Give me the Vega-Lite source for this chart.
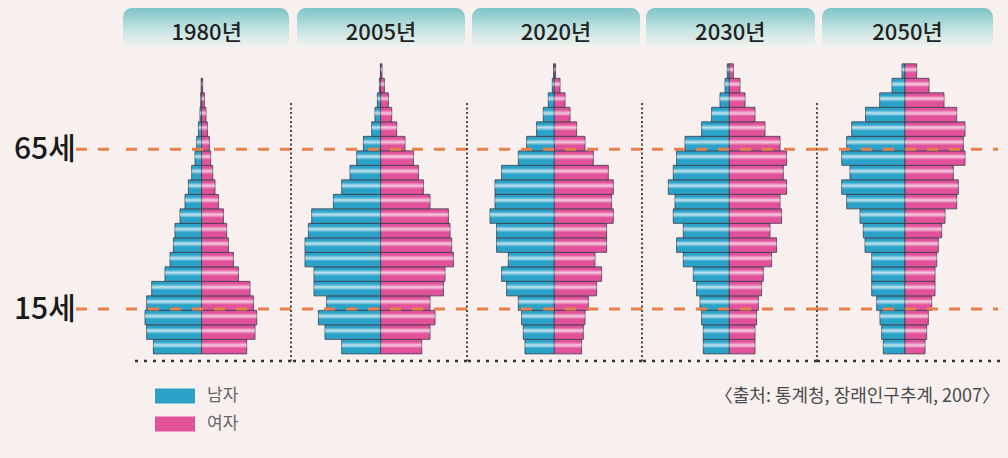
{
  "$schema": "https://vega.github.io/schema/vega-lite/v6.json",
  "background": "#f7f0ee",
  "padding": 0,
  "spacing": 0,
  "bounds": "flush",
  "config": {"view": {"stroke": null}, "axis": {"disable": true}},
  "resolve": {"scale": {"x": "independent", "y": "independent", "color": "shared"}, "legend": {"color": "shared"}},
  "datasets": {
    "refs": [{"label": "65세", "age": 70.4}, {"label": "15세", "age": 15.3}],
    "years": [{"yr": 1980, "label": "1980년"}, {"yr": 2005, "label": "2005년"}, {"yr": 2020, "label": "2020년"}, {"yr": 2030, "label": "2030년"}, {"yr": 2050, "label": "2050년"}],
    "source": [{"text": "〈출처: 통계청, 장래인구추계, 2007〉"}],
    "pop": [
      {"yr":1980,"a":0,"m":48.3,"f":45},{"yr":1980,"a":5,"m":55,"f":53.3},{"yr":1980,"a":10,"m":56.7,"f":55},{"yr":1980,"a":15,"m":55,"f":51.7},{"yr":1980,"a":20,"m":50,"f":48.3},{"yr":1980,"a":25,"m":36.7,"f":36.7},{"yr":1980,"a":30,"m":31.7,"f":31.7},{"yr":1980,"a":35,"m":28.3,"f":26.7},{"yr":1980,"a":40,"m":26.7,"f":25},{"yr":1980,"a":45,"m":21.7,"f":21.7},{"yr":1980,"a":50,"m":16.7,"f":16.7},{"yr":1980,"a":55,"m":13.3,"f":13.3},{"yr":1980,"a":60,"m":10,"f":11},{"yr":1980,"a":65,"m":6.7,"f":9},{"yr":1980,"a":70,"m":5,"f":7.7},{"yr":1980,"a":75,"m":3.3,"f":5.7},{"yr":1980,"a":80,"m":1.7,"f":4.3},{"yr":1980,"a":85,"m":1,"f":2.7},{"yr":1980,"a":90,"m":0.5,"f":1},
      {"yr":2005,"a":0,"m":39,"f":41},{"yr":2005,"a":5,"m":55.7,"f":49.3},{"yr":2005,"a":10,"m":62.3,"f":54.3},{"yr":2005,"a":15,"m":54,"f":49.3},{"yr":2005,"a":20,"m":66.7,"f":62.7},{"yr":2005,"a":25,"m":66.7,"f":64.3},{"yr":2005,"a":30,"m":75.7,"f":72.7},{"yr":2005,"a":35,"m":75.7,"f":71},{"yr":2005,"a":40,"m":72.3,"f":69.3},{"yr":2005,"a":45,"m":69,"f":67.7},{"yr":2005,"a":50,"m":47.3,"f":49.3},{"yr":2005,"a":55,"m":39,"f":42.7},{"yr":2005,"a":60,"m":30.7,"f":37.7},{"yr":2005,"a":65,"m":24,"f":32.7},{"yr":2005,"a":70,"m":17.3,"f":24.3},{"yr":2005,"a":75,"m":9,"f":16},{"yr":2005,"a":80,"m":5.7,"f":11},{"yr":2005,"a":85,"m":3.3,"f":7.7},{"yr":2005,"a":90,"m":1.3,"f":3.7},{"yr":2005,"a":95,"m":0.3,"f":1.3},
      {"yr":2020,"a":0,"m":29.3,"f":27.3},{"yr":2020,"a":5,"m":31,"f":29},{"yr":2020,"a":10,"m":32.7,"f":30.7},{"yr":2020,"a":15,"m":36,"f":34},{"yr":2020,"a":20,"m":47.7,"f":42.3},{"yr":2020,"a":25,"m":52.7,"f":47.3},{"yr":2020,"a":30,"m":46,"f":40.7},{"yr":2020,"a":35,"m":57.7,"f":52.3},{"yr":2020,"a":40,"m":57.7,"f":52.3},{"yr":2020,"a":45,"m":64.3,"f":59},{"yr":2020,"a":50,"m":59.3,"f":57.3},{"yr":2020,"a":55,"m":59.3,"f":59},{"yr":2020,"a":60,"m":52.7,"f":54},{"yr":2020,"a":65,"m":36,"f":39},{"yr":2020,"a":70,"m":27.7,"f":30.7},{"yr":2020,"a":75,"m":17.7,"f":22.3},{"yr":2020,"a":80,"m":11,"f":15.7},{"yr":2020,"a":85,"m":6,"f":10.7},{"yr":2020,"a":90,"m":2,"f":5.7},{"yr":2020,"a":95,"m":0.7,"f":1.3},
      {"yr":2030,"a":0,"m":26,"f":25.7},{"yr":2030,"a":5,"m":26,"f":25.7},{"yr":2030,"a":10,"m":27.7,"f":27.3},{"yr":2030,"a":15,"m":29.3,"f":29},{"yr":2030,"a":20,"m":32.7,"f":32.3},{"yr":2030,"a":25,"m":36,"f":34},{"yr":2030,"a":30,"m":46,"f":42.3},{"yr":2030,"a":35,"m":52.7,"f":47.3},{"yr":2030,"a":40,"m":46,"f":40.7},{"yr":2030,"a":45,"m":56,"f":52.3},{"yr":2030,"a":50,"m":54.3,"f":50.7},{"yr":2030,"a":55,"m":61,"f":57.3},{"yr":2030,"a":60,"m":56,"f":54},{"yr":2030,"a":65,"m":52.7,"f":57.3},{"yr":2030,"a":70,"m":44.3,"f":50.7},{"yr":2030,"a":75,"m":27.7,"f":35.7},{"yr":2030,"a":80,"m":17.7,"f":25.7},{"yr":2030,"a":85,"m":9.3,"f":15.7},{"yr":2030,"a":90,"m":4.3,"f":10.7},{"yr":2030,"a":95,"m":2,"f":4},
      {"yr":2050,"a":0,"m":21.7,"f":20},{"yr":2050,"a":5,"m":23.3,"f":21.7},{"yr":2050,"a":10,"m":25,"f":23.3},{"yr":2050,"a":15,"m":28.3,"f":26.7},{"yr":2050,"a":20,"m":33.3,"f":30},{"yr":2050,"a":25,"m":33.3,"f":30},{"yr":2050,"a":30,"m":33.3,"f":31.7},{"yr":2050,"a":35,"m":40,"f":33.3},{"yr":2050,"a":40,"m":41.7,"f":36.7},{"yr":2050,"a":45,"m":45,"f":40},{"yr":2050,"a":50,"m":58.3,"f":51.7},{"yr":2050,"a":55,"m":63.3,"f":53.3},{"yr":2050,"a":60,"m":55,"f":48.3},{"yr":2050,"a":65,"m":63.3,"f":60},{"yr":2050,"a":70,"m":58.3,"f":58.3},{"yr":2050,"a":75,"m":53.3,"f":60},{"yr":2050,"a":80,"m":39.5,"f":51.7},{"yr":2050,"a":85,"m":25.3,"f":39},{"yr":2050,"a":90,"m":13,"f":24},{"yr":2050,"a":95,"m":3,"f":11.7}
    ]
  },
  "hconcat": [
    {
      "width": 116, "height": 458,
      "data": {"name": "refs"},
      "encoding": {"y": {"field": "age", "type": "quantitative", "scale": {"domain": [-36.07, 121.83], "nice": false, "zero": false}}},
      "layer": [
        {"mark": {"type": "rule", "stroke": "#e8804c", "strokeWidth": 3, "strokeDash": [11, 11]},
         "encoding": {"x": {"datum": 76, "type": "quantitative", "scale": {"domain": [0, 116], "nice": false, "zero": false}}, "x2": {"datum": 116}}},
        {"mark": {"type": "text", "align": "left", "baseline": "middle", "dy": 1, "fontSize": 30, "fontWeight": 500, "font": "Noto Sans CJK KR", "color": "#1a1a1a"},
         "encoding": {"x": {"datum": 14, "type": "quantitative"}, "text": {"field": "label"}}}
      ]
    },
    {
      "width": 175, "height": 458,
      "resolve": {"scale": {"x": "independent"}},
      "layer": [
        {
          "data": {"name": "pop"},
          "transform": [{"filter": "datum.yr == 1980"}],
          "encoding": {
            "y": {"field": "a", "type": "quantitative", "bin": {"binned": true, "step": 5}, "scale": {"domain": [-36.07, 121.83], "nice": false, "zero": false}},
            "x": {"field": "m", "type": "quantitative", "scale": {"domain": [0, 85.7], "range": [85.7, 0], "nice": false}},
            "x2": {"datum": 0}
          },
          "layer": [
            {"mark": {"type": "bar", "binSpacing": 0, "stroke": "#3c3c4c", "strokeWidth": 0.8},
             "encoding": {"color": {"datum": "남자", "type": "nominal", "scale": {"domain": ["남자", "여자"], "range": ["#2ba3c9", "#e2529a"]},
               "legend": {"orient": "none", "legendX": 155, "legendY": 376, "title": null, "direction": "vertical", "symbolType": "M-1,-0.375H1V0.375H-1Z", "symbolSize": 1600, "symbolStrokeWidth": 0, "symbolOpacity": 1, "labelFontSize": 17, "labelColor": "#666666", "labelFont": "Noto Sans CJK KR", "labelOffset": 12, "rowPadding": -9, "padding": 0}}}},
            {"mark": {"type": "bar", "binSpacing": 0, "strokeWidth": 0, "fill": {"gradient": "linear", "x1": 0, "y1": 0, "x2": 0, "y2": 1, "stops": [{"offset": 0, "color": "rgba(255,255,255,0)"}, {"offset": 0.18, "color": "rgba(255,255,255,0)"}, {"offset": 0.4, "color": "rgba(255,255,255,0.7)"}, {"offset": 0.62, "color": "rgba(255,255,255,0)"}, {"offset": 1, "color": "rgba(255,255,255,0)"}]}}}
          ]
        },
        {
          "data": {"name": "years"},
          "transform": [{"filter": "datum.yr == 1980"}],
          "layer": [
            {"data": {"name": "pop"}, "transform": [{"filter": "datum.yr == 1980"}],
             "encoding": {
               "y": {"field": "a", "type": "quantitative", "bin": {"binned": true, "step": 5}, "scale": {"domain": [-36.07, 121.83], "nice": false, "zero": false}},
               "x": {"field": "f", "type": "quantitative", "scale": {"domain": [-85.7, 89.3], "nice": false}},
               "x2": {"datum": 0}
             },
             "layer": [
               {"mark": {"type": "bar", "binSpacing": 0, "stroke": "#3c3c4c", "strokeWidth": 0.8}, "encoding": {"color": {"datum": "여자", "type": "nominal"}}},
               {"mark": {"type": "bar", "binSpacing": 0, "strokeWidth": 0, "fill": {"gradient": "linear", "x1": 0, "y1": 0, "x2": 0, "y2": 1, "stops": [{"offset": 0, "color": "rgba(255,255,255,0)"}, {"offset": 0.18, "color": "rgba(255,255,255,0)"}, {"offset": 0.4, "color": "rgba(255,255,255,0.7)"}, {"offset": 0.62, "color": "rgba(255,255,255,0)"}, {"offset": 1, "color": "rgba(255,255,255,0)"}]}}}
             ]
            },
            {"mark": {"type": "rect", "cornerRadiusTopLeft": 9, "cornerRadiusTopRight": 9, "fill": {"gradient": "linear", "x1": 0, "y1": 0, "x2": 0, "y2": 1, "stops": [{"offset": 0, "color": "#7ec4c8"}, {"offset": 0.55, "color": "#c6e4e2"}, {"offset": 1, "color": "#f5f3f0"}]}},
             "encoding": {"x": {"datum": -78.7, "type": "quantitative"}, "x2": {"datum": 87.3}, "y": {"datum": 105.3, "type": "quantitative"}, "y2": {"datum": 119.1}}},
            {"mark": {"type": "text", "align": "center", "baseline": "middle", "fontSize": 22, "fontWeight": 500, "font": "Noto Sans CJK KR", "color": "#222222"},
             "encoding": {"x": {"datum": 5, "type": "quantitative"}, "y": {"datum": 110.4, "type": "quantitative"}, "text": {"field": "label"}}},
            {"mark": {"type": "rule", "stroke": "#333333", "strokeWidth": 2.5, "strokeDash": [3, 6]},
             "encoding": {"x": {"datum": -66.7, "type": "quantitative"}, "x2": {"datum": 89.3}, "y": {"datum": -2.66, "type": "quantitative"}}},
            {"data": {"name": "refs"}, "mark": {"type": "rule", "stroke": "#e8804c", "strokeWidth": 3, "strokeDash": [11, 11]},
             "encoding": {"y": {"field": "age", "type": "quantitative"}}}
          ]
        }
      ]
    },
    {
      "width": 176, "height": 458,
      "resolve": {"scale": {"x": "independent"}},
      "layer": [
        {
          "data": {"name": "pop"},
          "transform": [{"filter": "datum.yr == 2005"}],
          "encoding": {
            "y": {"field": "a", "type": "quantitative", "bin": {"binned": true, "step": 5}, "scale": {"domain": [-36.07, 121.83], "nice": false, "zero": false}},
            "x": {"field": "m", "type": "quantitative", "scale": {"domain": [0, 89.7], "range": [89.7, 0], "nice": false}},
            "x2": {"datum": 0}
          },
          "layer": [
            {"mark": {"type": "bar", "binSpacing": 0, "stroke": "#3c3c4c", "strokeWidth": 0.8}, "encoding": {"color": {"datum": "남자", "type": "nominal"}}},
            {"mark": {"type": "bar", "binSpacing": 0, "strokeWidth": 0, "fill": {"gradient": "linear", "x1": 0, "y1": 0, "x2": 0, "y2": 1, "stops": [{"offset": 0, "color": "rgba(255,255,255,0)"}, {"offset": 0.18, "color": "rgba(255,255,255,0)"}, {"offset": 0.4, "color": "rgba(255,255,255,0.7)"}, {"offset": 0.62, "color": "rgba(255,255,255,0)"}, {"offset": 1, "color": "rgba(255,255,255,0)"}]}}}
          ]
        },
        {
          "data": {"name": "years"},
          "transform": [{"filter": "datum.yr == 2005"}],
          "layer": [
            {"data": {"name": "pop"}, "transform": [{"filter": "datum.yr == 2005"}],
             "encoding": {
               "y": {"field": "a", "type": "quantitative", "bin": {"binned": true, "step": 5}, "scale": {"domain": [-36.07, 121.83], "nice": false, "zero": false}},
               "x": {"field": "f", "type": "quantitative", "scale": {"domain": [-89.7, 86.3], "nice": false}},
               "x2": {"datum": 0}
             },
             "layer": [
               {"mark": {"type": "bar", "binSpacing": 0, "stroke": "#3c3c4c", "strokeWidth": 0.8}, "encoding": {"color": {"datum": "여자", "type": "nominal"}}},
               {"mark": {"type": "bar", "binSpacing": 0, "strokeWidth": 0, "fill": {"gradient": "linear", "x1": 0, "y1": 0, "x2": 0, "y2": 1, "stops": [{"offset": 0, "color": "rgba(255,255,255,0)"}, {"offset": 0.18, "color": "rgba(255,255,255,0)"}, {"offset": 0.4, "color": "rgba(255,255,255,0.7)"}, {"offset": 0.62, "color": "rgba(255,255,255,0)"}, {"offset": 1, "color": "rgba(255,255,255,0)"}]}}}
             ]
            },
            {"mark": {"type": "rect", "cornerRadiusTopLeft": 9, "cornerRadiusTopRight": 9, "fill": {"gradient": "linear", "x1": 0, "y1": 0, "x2": 0, "y2": 1, "stops": [{"offset": 0, "color": "#7ec4c8"}, {"offset": 0.55, "color": "#c6e4e2"}, {"offset": 1, "color": "#f5f3f0"}]}},
             "encoding": {"x": {"datum": -83.7, "type": "quantitative"}, "x2": {"datum": 84.3}, "y": {"datum": 105.3, "type": "quantitative"}, "y2": {"datum": 119.1}}},
            {"mark": {"type": "text", "align": "center", "baseline": "middle", "fontSize": 22, "fontWeight": 500, "font": "Noto Sans CJK KR", "color": "#222222"},
             "encoding": {"x": {"datum": 0.3, "type": "quantitative"}, "y": {"datum": 110.4, "type": "quantitative"}, "text": {"field": "label"}}},
            {"mark": {"type": "rule", "stroke": "#4a4a4a", "strokeWidth": 2, "strokeDash": [2, 2.5]},
             "encoding": {"x": {"datum": -89.7, "type": "quantitative"}, "y": {"datum": 86.3, "type": "quantitative"}, "y2": {"datum": -2.66}}},
            {"mark": {"type": "rule", "stroke": "#333333", "strokeWidth": 2.5, "strokeDash": [3, 6]},
             "encoding": {"y": {"datum": -2.66, "type": "quantitative"}}},
            {"data": {"name": "refs"}, "mark": {"type": "rule", "stroke": "#e8804c", "strokeWidth": 3, "strokeDash": [11, 11]},
             "encoding": {"y": {"field": "age", "type": "quantitative"}}}
          ]
        }
      ]
    },
    {
      "width": 175, "height": 458,
      "resolve": {"scale": {"x": "independent"}},
      "layer": [
        {
          "data": {"name": "pop"},
          "transform": [{"filter": "datum.yr == 2020"}],
          "encoding": {
            "y": {"field": "a", "type": "quantitative", "bin": {"binned": true, "step": 5}, "scale": {"domain": [-36.07, 121.83], "nice": false, "zero": false}},
            "x": {"field": "m", "type": "quantitative", "scale": {"domain": [0, 87.3], "range": [87.3, 0], "nice": false}},
            "x2": {"datum": 0}
          },
          "layer": [
            {"mark": {"type": "bar", "binSpacing": 0, "stroke": "#3c3c4c", "strokeWidth": 0.8}, "encoding": {"color": {"datum": "남자", "type": "nominal"}}},
            {"mark": {"type": "bar", "binSpacing": 0, "strokeWidth": 0, "fill": {"gradient": "linear", "x1": 0, "y1": 0, "x2": 0, "y2": 1, "stops": [{"offset": 0, "color": "rgba(255,255,255,0)"}, {"offset": 0.18, "color": "rgba(255,255,255,0)"}, {"offset": 0.4, "color": "rgba(255,255,255,0.7)"}, {"offset": 0.62, "color": "rgba(255,255,255,0)"}, {"offset": 1, "color": "rgba(255,255,255,0)"}]}}}
          ]
        },
        {
          "data": {"name": "years"},
          "transform": [{"filter": "datum.yr == 2020"}],
          "layer": [
            {"data": {"name": "pop"}, "transform": [{"filter": "datum.yr == 2020"}],
             "encoding": {
               "y": {"field": "a", "type": "quantitative", "bin": {"binned": true, "step": 5}, "scale": {"domain": [-36.07, 121.83], "nice": false, "zero": false}},
               "x": {"field": "f", "type": "quantitative", "scale": {"domain": [-87.3, 87.7], "nice": false}},
               "x2": {"datum": 0}
             },
             "layer": [
               {"mark": {"type": "bar", "binSpacing": 0, "stroke": "#3c3c4c", "strokeWidth": 0.8}, "encoding": {"color": {"datum": "여자", "type": "nominal"}}},
               {"mark": {"type": "bar", "binSpacing": 0, "strokeWidth": 0, "fill": {"gradient": "linear", "x1": 0, "y1": 0, "x2": 0, "y2": 1, "stops": [{"offset": 0, "color": "rgba(255,255,255,0)"}, {"offset": 0.18, "color": "rgba(255,255,255,0)"}, {"offset": 0.4, "color": "rgba(255,255,255,0.7)"}, {"offset": 0.62, "color": "rgba(255,255,255,0)"}, {"offset": 1, "color": "rgba(255,255,255,0)"}]}}}
             ]
            },
            {"mark": {"type": "rect", "cornerRadiusTopLeft": 9, "cornerRadiusTopRight": 9, "fill": {"gradient": "linear", "x1": 0, "y1": 0, "x2": 0, "y2": 1, "stops": [{"offset": 0, "color": "#7ec4c8"}, {"offset": 0.55, "color": "#c6e4e2"}, {"offset": 1, "color": "#f5f3f0"}]}},
             "encoding": {"x": {"datum": -82.3, "type": "quantitative"}, "x2": {"datum": 85.7}, "y": {"datum": 105.3, "type": "quantitative"}, "y2": {"datum": 119.1}}},
            {"mark": {"type": "text", "align": "center", "baseline": "middle", "fontSize": 22, "fontWeight": 500, "font": "Noto Sans CJK KR", "color": "#222222"},
             "encoding": {"x": {"datum": 1.7, "type": "quantitative"}, "y": {"datum": 110.4, "type": "quantitative"}, "text": {"field": "label"}}},
            {"mark": {"type": "rule", "stroke": "#4a4a4a", "strokeWidth": 2, "strokeDash": [2, 2.5]},
             "encoding": {"x": {"datum": -87.3, "type": "quantitative"}, "y": {"datum": 86.3, "type": "quantitative"}, "y2": {"datum": -2.66}}},
            {"mark": {"type": "rule", "stroke": "#333333", "strokeWidth": 2.5, "strokeDash": [3, 6]},
             "encoding": {"y": {"datum": -2.66, "type": "quantitative"}}},
            {"data": {"name": "refs"}, "mark": {"type": "rule", "stroke": "#e8804c", "strokeWidth": 3, "strokeDash": [11, 11]},
             "encoding": {"y": {"field": "age", "type": "quantitative"}}}
          ]
        }
      ]
    },
    {
      "width": 175, "height": 458,
      "resolve": {"scale": {"x": "independent"}},
      "layer": [
        {
          "data": {"name": "pop"},
          "transform": [{"filter": "datum.yr == 2030"}],
          "encoding": {
            "y": {"field": "a", "type": "quantitative", "bin": {"binned": true, "step": 5}, "scale": {"domain": [-36.07, 121.83], "nice": false, "zero": false}},
            "x": {"field": "m", "type": "quantitative", "scale": {"domain": [0, 87.3], "range": [87.3, 0], "nice": false}},
            "x2": {"datum": 0}
          },
          "layer": [
            {"mark": {"type": "bar", "binSpacing": 0, "stroke": "#3c3c4c", "strokeWidth": 0.8}, "encoding": {"color": {"datum": "남자", "type": "nominal"}}},
            {"mark": {"type": "bar", "binSpacing": 0, "strokeWidth": 0, "fill": {"gradient": "linear", "x1": 0, "y1": 0, "x2": 0, "y2": 1, "stops": [{"offset": 0, "color": "rgba(255,255,255,0)"}, {"offset": 0.18, "color": "rgba(255,255,255,0)"}, {"offset": 0.4, "color": "rgba(255,255,255,0.7)"}, {"offset": 0.62, "color": "rgba(255,255,255,0)"}, {"offset": 1, "color": "rgba(255,255,255,0)"}]}}}
          ]
        },
        {
          "data": {"name": "years"},
          "transform": [{"filter": "datum.yr == 2030"}],
          "layer": [
            {"data": {"name": "pop"}, "transform": [{"filter": "datum.yr == 2030"}],
             "encoding": {
               "y": {"field": "a", "type": "quantitative", "bin": {"binned": true, "step": 5}, "scale": {"domain": [-36.07, 121.83], "nice": false, "zero": false}},
               "x": {"field": "f", "type": "quantitative", "scale": {"domain": [-87.3, 87.7], "nice": false}},
               "x2": {"datum": 0}
             },
             "layer": [
               {"mark": {"type": "bar", "binSpacing": 0, "stroke": "#3c3c4c", "strokeWidth": 0.8}, "encoding": {"color": {"datum": "여자", "type": "nominal"}}},
               {"mark": {"type": "bar", "binSpacing": 0, "strokeWidth": 0, "fill": {"gradient": "linear", "x1": 0, "y1": 0, "x2": 0, "y2": 1, "stops": [{"offset": 0, "color": "rgba(255,255,255,0)"}, {"offset": 0.18, "color": "rgba(255,255,255,0)"}, {"offset": 0.4, "color": "rgba(255,255,255,0.7)"}, {"offset": 0.62, "color": "rgba(255,255,255,0)"}, {"offset": 1, "color": "rgba(255,255,255,0)"}]}}}
             ]
            },
            {"mark": {"type": "rect", "cornerRadiusTopLeft": 9, "cornerRadiusTopRight": 9, "fill": {"gradient": "linear", "x1": 0, "y1": 0, "x2": 0, "y2": 1, "stops": [{"offset": 0, "color": "#7ec4c8"}, {"offset": 0.55, "color": "#c6e4e2"}, {"offset": 1, "color": "#f5f3f0"}]}},
             "encoding": {"x": {"datum": -83.3, "type": "quantitative"}, "x2": {"datum": 85.7}, "y": {"datum": 105.3, "type": "quantitative"}, "y2": {"datum": 119.1}}},
            {"mark": {"type": "text", "align": "center", "baseline": "middle", "fontSize": 22, "fontWeight": 500, "font": "Noto Sans CJK KR", "color": "#222222"},
             "encoding": {"x": {"datum": 1, "type": "quantitative"}, "y": {"datum": 110.4, "type": "quantitative"}, "text": {"field": "label"}}},
            {"mark": {"type": "rule", "stroke": "#4a4a4a", "strokeWidth": 2, "strokeDash": [2, 2.5]},
             "encoding": {"x": {"datum": -87.3, "type": "quantitative"}, "y": {"datum": 86.3, "type": "quantitative"}, "y2": {"datum": -2.66}}},
            {"mark": {"type": "rule", "stroke": "#333333", "strokeWidth": 2.5, "strokeDash": [3, 6]},
             "encoding": {"y": {"datum": -2.66, "type": "quantitative"}}},
            {"data": {"name": "refs"}, "mark": {"type": "rule", "stroke": "#e8804c", "strokeWidth": 3, "strokeDash": [11, 11]},
             "encoding": {"y": {"field": "age", "type": "quantitative"}}}
          ]
        }
      ]
    },
    {
      "width": 191, "height": 458,
      "resolve": {"scale": {"x": "independent"}},
      "layer": [
        {
          "data": {"name": "pop"},
          "transform": [{"filter": "datum.yr == 2050"}],
          "encoding": {
            "y": {"field": "a", "type": "quantitative", "bin": {"binned": true, "step": 5}, "scale": {"domain": [-36.07, 121.83], "nice": false, "zero": false}},
            "x": {"field": "m", "type": "quantitative", "scale": {"domain": [0, 88], "range": [88, 0], "nice": false}},
            "x2": {"datum": 0}
          },
          "layer": [
            {"mark": {"type": "bar", "binSpacing": 0, "stroke": "#3c3c4c", "strokeWidth": 0.8}, "encoding": {"color": {"datum": "남자", "type": "nominal"}}},
            {"mark": {"type": "bar", "binSpacing": 0, "strokeWidth": 0, "fill": {"gradient": "linear", "x1": 0, "y1": 0, "x2": 0, "y2": 1, "stops": [{"offset": 0, "color": "rgba(255,255,255,0)"}, {"offset": 0.18, "color": "rgba(255,255,255,0)"}, {"offset": 0.4, "color": "rgba(255,255,255,0.7)"}, {"offset": 0.62, "color": "rgba(255,255,255,0)"}, {"offset": 1, "color": "rgba(255,255,255,0)"}]}}}
          ]
        },
        {
          "data": {"name": "years"},
          "transform": [{"filter": "datum.yr == 2050"}],
          "layer": [
            {"data": {"name": "pop"}, "transform": [{"filter": "datum.yr == 2050"}],
             "encoding": {
               "y": {"field": "a", "type": "quantitative", "bin": {"binned": true, "step": 5}, "scale": {"domain": [-36.07, 121.83], "nice": false, "zero": false}},
               "x": {"field": "f", "type": "quantitative", "scale": {"domain": [-88, 103], "nice": false}},
               "x2": {"datum": 0}
             },
             "layer": [
               {"mark": {"type": "bar", "binSpacing": 0, "stroke": "#3c3c4c", "strokeWidth": 0.8}, "encoding": {"color": {"datum": "여자", "type": "nominal"}}},
               {"mark": {"type": "bar", "binSpacing": 0, "strokeWidth": 0, "fill": {"gradient": "linear", "x1": 0, "y1": 0, "x2": 0, "y2": 1, "stops": [{"offset": 0, "color": "rgba(255,255,255,0)"}, {"offset": 0.18, "color": "rgba(255,255,255,0)"}, {"offset": 0.4, "color": "rgba(255,255,255,0.7)"}, {"offset": 0.62, "color": "rgba(255,255,255,0)"}, {"offset": 1, "color": "rgba(255,255,255,0)"}]}}}
             ]
            },
            {"mark": {"type": "rect", "cornerRadiusTopLeft": 9, "cornerRadiusTopRight": 9, "fill": {"gradient": "linear", "x1": 0, "y1": 0, "x2": 0, "y2": 1, "stops": [{"offset": 0, "color": "#7ec4c8"}, {"offset": 0.55, "color": "#c6e4e2"}, {"offset": 1, "color": "#f5f3f0"}]}},
             "encoding": {"x": {"datum": -83, "type": "quantitative"}, "x2": {"datum": 88}, "y": {"datum": 105.3, "type": "quantitative"}, "y2": {"datum": 119.1}}},
            {"mark": {"type": "text", "align": "center", "baseline": "middle", "fontSize": 22, "fontWeight": 500, "font": "Noto Sans CJK KR", "color": "#222222"},
             "encoding": {"x": {"datum": 2.5, "type": "quantitative"}, "y": {"datum": 110.4, "type": "quantitative"}, "text": {"field": "label"}}},
            {"mark": {"type": "rule", "stroke": "#4a4a4a", "strokeWidth": 2, "strokeDash": [2, 2.5]},
             "encoding": {"x": {"datum": -88, "type": "quantitative"}, "y": {"datum": 86.3, "type": "quantitative"}, "y2": {"datum": -2.66}}},
            {"mark": {"type": "rule", "stroke": "#333333", "strokeWidth": 2.5, "strokeDash": [3, 6]},
             "encoding": {"x": {"datum": -88, "type": "quantitative"}, "x2": {"datum": 95}, "y": {"datum": -2.66, "type": "quantitative"}}},
            {"data": {"name": "refs"}, "mark": {"type": "rule", "stroke": "#e8804c", "strokeWidth": 3, "strokeDash": [11, 11]},
             "encoding": {"x": {"datum": -88, "type": "quantitative"}, "x2": {"datum": 93}, "y": {"field": "age", "type": "quantitative"}}},
            {"data": {"name": "source"}, "mark": {"type": "text", "align": "right", "baseline": "middle", "fontSize": 18, "font": "Noto Sans CJK KR", "color": "#4a4a4a"},
             "encoding": {"x": {"datum": 95, "type": "quantitative"}, "y": {"datum": -15, "type": "quantitative"}, "text": {"field": "text"}}}
          ]
        }
      ]
    }
  ]
}
